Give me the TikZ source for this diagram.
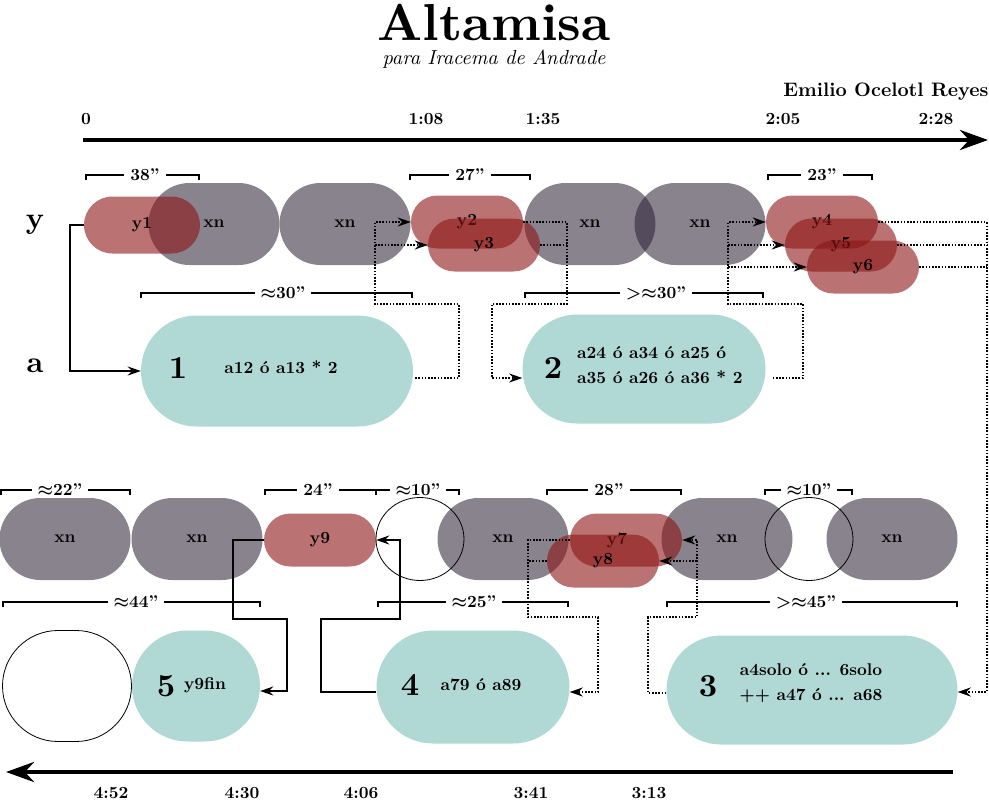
\documentclass[tikz,border=0pt]{standalone}
\usepackage{fontspec}
\setmainfont{lmroman10-regular}[Extension=.otf, BoldFont=lmroman10-bold, ItalicFont=lmroman10-italic, BoldItalicFont=lmroman10-bolditalic]
\usetikzlibrary{arrows.meta,shapes.misc,shapes.geometric}
\definecolor{redc}{RGB}{140,20,20}
\definecolor{grayc}{RGB}{40,30,50}
\definecolor{tealc}{RGB}{176,216,213}
\newcommand\mylbl{\fontsize{17}{25}\selectfont\bfseries}
\newcommand\mybrk[6]{%
  \draw[brk] (#2,#4+5) -- (#2,#4) -- (#3,#4) -- (#3,#4+5);
  \node[brklbl] (#1) at (#5,#4) {#6};}
\begin{document}
\begin{tikzpicture}[x=1pt,y=-1pt,
  xn/.style={rounded rectangle, fill=grayc, fill opacity=.55, text opacity=1, minimum width=131pt, minimum height=82pt, inner sep=0pt, font=\mylbl},
  yb/.style={rounded rectangle, fill=redc, fill opacity=.6, text opacity=1, minimum width=112pt, minimum height=53pt, inner sep=0pt, font=\mylbl},
  ab/.style={rounded rectangle, fill=tealc, inner sep=0pt},
  openc/.style={ellipse, draw, line width=0.8pt, minimum width=88pt, minimum height=83pt, inner sep=0pt},
  txt/.style={font=\mylbl, inner sep=0pt},
  num/.style={font=\fontsize{32}{36}\selectfont\bfseries, inner sep=0pt},
  solidc/.style={line width=1.6pt, -{Stealth[length=13pt,width=9pt]}},
  dotc/.style={line width=1.6pt, dash pattern=on 1.6pt off 1.6pt},
  dotarr/.style={dotc, -{Stealth[length=13pt,width=9pt]}},
  brk/.style={line width=1.6pt},
  brklbl/.style={font=\mylbl, fill=white, inner xsep=6pt, inner ysep=0pt},
  tl/.style={line width=4.5pt, -{Stealth[length=28pt,width=20pt]}}
]
\useasboundingbox (0,0) rectangle (989,801);

% title
\node[anchor=base, font=\fontsize{52}{60}\selectfont\bfseries, inner sep=0pt] (title) at (494,40) {Altamisa};
\node[anchor=base, font=\fontsize{20.3}{23}\selectfont\itshape, inner sep=0pt] (sub) at (494,64) {para Iracema de Andrade};
\node[font=\fontsize{19.5}{24}\selectfont\bfseries, inner sep=0pt] (author) at (886,92) {Emilio Ocelotl Reyes};

% top timeline
\node[txt] (t0) at (86,119) {0};
\node[txt] (t108) at (426,119) {1:08};
\node[txt] (t135) at (543,119) {1:35};
\node[txt] (t205) at (783,119) {2:05};
\node[txt] (t228) at (936,119) {2:28};
\coordinate (tlA) at (83,140);
\coordinate (tlB) at (988,140);
\draw[tl] (tlA) -- (tlB);

% row labels
\node[font=\fontsize{30}{34}\selectfont\bfseries, inner sep=0pt] (ly) at (35,225) {y};
\node[font=\fontsize{30}{34}\selectfont\bfseries, inner sep=0pt] (la) at (35,366) {a};

% row 1 gray
\node[xn] (xn1) at (214,224) {xn};
\node[xn] (xn2) at (345,224) {xn};
\node[xn] (xn3) at (590,224) {xn};
\node[xn] (xn4) at (700,224) {xn};
% row 1 red
\node[yb, minimum width=116pt, minimum height=57pt] (y1) at (142,225) {y1};
\node[yb] (y2) at (467,222) {y2};
\node[yb] (y3) at (484,245) {y3};
\node[yb] (y4) at (822,222) {y4};
\node[yb] (y5) at (841,245) {y5};
\node[yb] (y6) at (863,267) {y6};

% row 1 action boxes
\node[ab, minimum width=272pt, minimum height=111pt] (n1) at (277,371) {};
\node[num] (n1num) at (178,368) {1};
\node[txt] (n1txt) at (281,367) {a12 ó a13 * 2};
\node[ab, minimum width=243pt, minimum height=109pt] (n2) at (644,369) {};
\node[num] (n2num) at (553,368) {2};
\node[txt, anchor=west, align=left] (n2txt) at (577,365) {a24 ó a34 ó a25 ó\\a35 ó a26 ó a36 * 2};

% row 2 gray
\node[xn] (xa) at (65,539) {xn};
\node[xn] (xb) at (197,539) {xn};
\node[xn] (xc) at (503,539) {xn};
\node[xn] (xd) at (727,539) {xn};
\node[xn] (xe) at (892,539) {xn};
% open circles
\node[openc] (c1) at (420,539) {};
\node[openc] (c2) at (809,539) {};
% row 2 red
\node[yb] (y9) at (320,540) {y9};
\node[yb] (y7) at (626,540) {\hspace*{-18pt}y7};
\node[yb] (y8) at (603,561) {y8};

% row 2 action boxes
\node[ab, minimum width=291pt, minimum height=109pt] (n3) at (812,690) {};
\node[num] (n3num) at (708,686) {3};
\node[txt, align=center] (n3txt) at (811,683) {a4solo ó ... 6solo\\++ a47 ó ... a68};
\node[ab, minimum width=193pt, minimum height=113pt] (n4) at (473,687) {};
\node[num] (n4num) at (410,685) {4};
\node[txt] (n4txt) at (481,685) {a79 ó a89};
\node[ab, minimum width=128pt, minimum height=111pt] (n5) at (196,686) {};
\node[num] (n5num) at (166,686) {5};
\node[txt] (n5txt) at (205,685) {y9fin};
\node[rounded rectangle, draw, line width=0.8pt, minimum width=129pt, minimum height=111pt, inner sep=0pt] (e5) at (67,686) {};

% bottom timeline
\coordinate (blA) at (953,772);
\coordinate (blB) at (6,772);
\draw[tl] (blA) -- (blB);
\node[txt] (b452) at (111,793) {4:52};
\node[txt] (b430) at (242,793) {4:30};
\node[txt] (b406) at (361,793) {4:06};
\node[txt] (b341) at (531,793) {3:41};
\node[txt] (b313) at (649,793) {3:13};

% connectors
\draw[solidc] (y1.west) -- ++(-14,0) |- (n1.west);

\draw[dotarr] ([xshift=2pt,yshift=-7pt]n1.east) -- (459,378) |- (375,304) |- (y2.west);
\coordinate (j1) at (375,245);
\draw[dotarr] (j1) -- (y3.west);

\draw[dotarr] (y2.east) -| (567,304) -| (492,378) -- ([yshift=-9pt]n2.west);
\coordinate (j2) at (567,245);
\draw[dotc] (y3.east) -- (j2);

\draw[dotarr] ([xshift=7pt,yshift=-9pt]n2.east) -- (803,378) |- (728,304) |- (y4.west);
\coordinate (j3) at (728,245);
\coordinate (j4) at (728,267);
\draw[dotarr] (j3) -- (y5.west);
\draw[dotarr] (j4) -- (y6.west);

\draw[dotarr] (y4.east) -| ([xshift=29pt,yshift=-2pt]n3.east) -- ([yshift=-2pt]n3.east);
\coordinate (j5) at (987,245);
\coordinate (j6) at (987,267);
\draw[dotc] (y5.east) -- (j5);
\draw[dotc] (y6.east) -- (j6);

\draw[dotarr] ([yshift=-3pt]n3.west) -- (648,693) |- (697,617) |- (y7.east);
\coordinate (j7) at (697,561);
\draw[dotarr] (j7) -- (y8.east);

\draw[dotarr] (y7.west) -| (528,617) -| (598,692) -- ([yshift=-5pt]n4.east);
\coordinate (j8) at (528,561);
\draw[dotc] (y8.west) -- (j8);

\draw[solidc] ([yshift=-5pt]n4.west) -- (321,692) |- (400,619) |- (y9.east);
\draw[solidc] (y9.west) -- (233,540) |- (287,619) |- ([yshift=-5pt]n5.east);

% brackets
\mybrk{k38}{86}{199}{175}{145}{38''}
\mybrk{k27}{410}{530}{175}{470}{27''}
\mybrk{k23}{768}{872}{175}{822}{23''}
\mybrk{k30}{141}{412}{293}{283}{{\boldmath$\approx$}30''}
\mybrk{kg30}{525}{763}{293}{656}{{\boldmath$>\approx$}30''}
\mybrk{k22}{1}{130}{490}{60}{{\boldmath$\approx$}22''}
\mybrk{k24}{265}{376}{490}{318}{24''}
\mybrk{k10a}{376}{459}{490}{418}{{\boldmath$\approx$}10''}
\mybrk{k28}{547}{681}{490}{609}{28''}
\mybrk{k10b}{765}{852}{490}{809}{{\boldmath$\approx$}10''}
\mybrk{k44}{3}{260}{602}{136}{{\boldmath$\approx$}44''}
\mybrk{k25}{378}{568}{602}{474}{{\boldmath$\approx$}25''}
\mybrk{kg45}{667}{957}{602}{806}{{\boldmath$>\approx$}45''}
\end{tikzpicture}
\end{document}
